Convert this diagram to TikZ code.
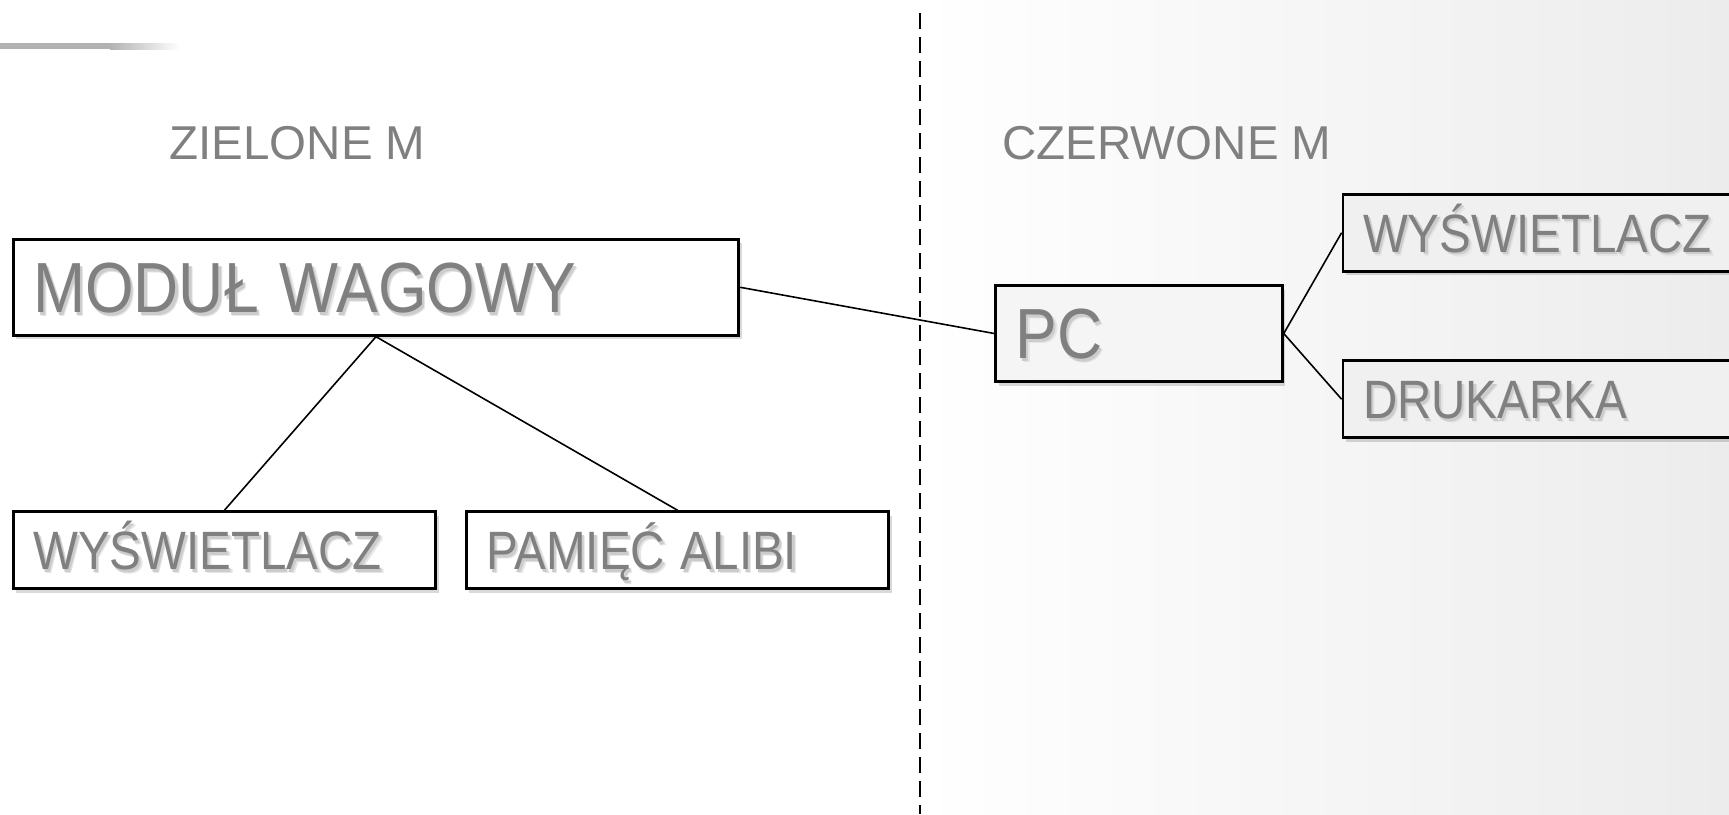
\documentclass[tikz,border=0pt]{standalone}
\usepackage{fontspec}
\setmainfont{Liberation Sans}
\usetikzlibrary{shadows}

\definecolor{labelgray}{HTML}{808080}
\definecolor{rightbg}{HTML}{ECECEC}

\newcommand{\boxlabel}[1]{\scalebox{0.88}[1]{%
    \makebox[0pt][l]{\hspace{4pt}\raisebox{-4pt}{\color{black!10}#1}}%
    \makebox[0pt][l]{\hspace{2.5pt}\raisebox{-2.5pt}{\color{black!20}#1}}%
    \color{labelgray}#1}}

\begin{document}
\begin{tikzpicture}[x=1pt, y=-1pt,
                    box/.style={draw=black, line width=2.8pt, fill=white, inner xsep=20pt, inner ysep=0pt, align=left,
                                drop shadow={shadow xshift=3pt, shadow yshift=-4pt, fill=black, opacity=0.15}},
                    bigbox/.style={box, text width=#1-40pt, minimum height=96pt, text height=50.8pt, text depth=0pt,
                                   font=\fontsize{71}{80}\selectfont},
                    smallbox/.style={box, text width=#1-40pt, minimum height=77pt, text height=38.7pt, text depth=0pt,
                                     font=\fontsize{54}{60}\selectfont},
                    heading/.style={anchor=base west, text=labelgray, font=\fontsize{47.5}{54}\selectfont},
                    link/.style={line width=1.6pt}]
                    \clip (0,0) rectangle (1729,814);
                    \fill[white] (0,0) rectangle (1729,814);
                    \shade[left color=white, right color=rightbg] (920,0) rectangle (1729,814);
                    \fill[black!30] (0,43) rectangle (110,49);
                    \shade[left color=black!30, right color=white] (110,43) rectangle (180,49);

                    \coordinate (sep1) at (920,13);
                    \coordinate (sep2) at (920,814);
                    \draw[line width=1.5pt, dash pattern=on 16pt off 8pt] (sep1) -- (sep2);

                    \node[heading] (zm) at (166,159) {ZIELONE M};
                    \node[heading] (cm) at (999,159) {CZERWONE M};

                    \node[bigbox=725.6pt] (mw) at (376,287.3) {\boxlabel{MODUŁ WAGOWY}};
                    \node[smallbox=422.4pt] (wl) at (224.4,550.2) {\boxlabel{WYŚWIETLACZ}};
                    \node[smallbox=422.4pt] (pa) at (677.6,550.2) {\boxlabel{PAMIĘĆ ALIBI}};

                    \node[bigbox=286.7pt, fill=black!4] (pc) at (1139,333.5) {\boxlabel{PC}};
                    \node[smallbox=430pt, fill=black!6] (wr) at (1558,232.7) {\boxlabel{WYŚWIETLACZ}};
                    \node[smallbox=430pt, fill=black!6] (dr) at (1558,399.2) {\boxlabel{DRUKARKA}};

                    \draw[link] (mw.east) -- (pc.west);
                    \draw[link] (mw.south) -- (wl.north);
                    \draw[link] (mw.south) -- (pa.north);
                    \draw[link] (pc.east) -- (wr.west);
                    \draw[link] (pc.east) -- (dr.west);

                \end{tikzpicture}
\end{document}
